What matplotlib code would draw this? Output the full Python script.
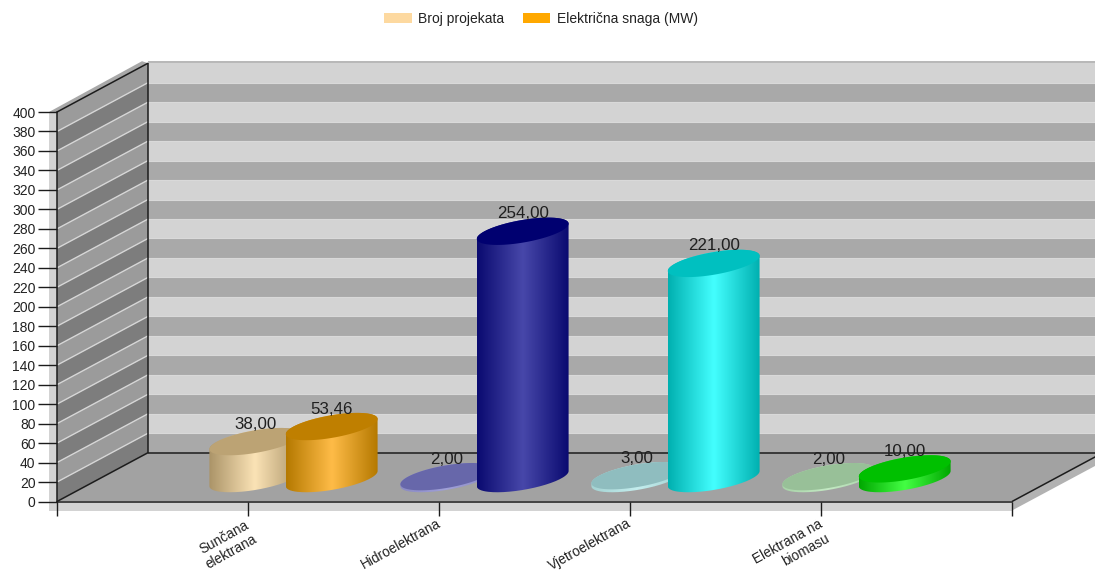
import numpy as np
import matplotlib
matplotlib.use("Agg")
import matplotlib.pyplot as plt
from matplotlib.colors import LinearSegmentedColormap
from matplotlib.patches import Polygon, Patch, PathPatch
from matplotlib.path import Path
from matplotlib.transforms import IdentityTransform

plt.rcParams["font.family"] = ["Liberation Sans", "DejaVu Sans"]

# Chart data
categories = ["Sunčana\nelektrana", "Hidroelektrana", "Vjetroelektrana", "Elektrana na\nbiomasu"]
projects = [38.00, 2.00, 3.00, 2.00]
power_mw = [53.46, 254.00, 221.00, 10.00]
series_names = ["Broj projekata", "Električna snaga (MW)"]
y_ticks = list(range(0, 401, 20))

# Colours per category: (edge of body, centre of body, top cap)
project_colours = [("#ab9468", "#fbe3b6", "#bca374"),
                   ("#8a8ac4", "#a0a0d8", "#6767aa"),
                   ("#a4d2d2", "#c4eeee", "#8fbdbf"),
                   ("#a8d2a8", "#c4eac4", "#98c098")]
power_colours = [("#b57900", "#ffbc48", "#bf7f00"),
                 ("#0a0a70", "#4848aa", "#000070"),
                 ("#00b0b0", "#44ffff", "#00c0c0"),
                 ("#00a800", "#44ff44", "#00c000")]

W, H = 1095, 572
DEPTH_X, DEPTH_Y = 91, 48.8
BAR_OFFSET = 0.2
BAR_DEPTH = 0.56
BAR_DROP = 1.5

fig = plt.figure(figsize=(W / 100, H / 100), dpi=100, facecolor="white")
ax = fig.add_axes([57 / W, (H - 501.5) / H, 955 / W, 389.5 / H])
ax.set_xlim(0, 5)
ax.set_ylim(0, 400)
ax.patch.set_visible(False)
identity = IdentityTransform()


def disp(x, v, depth=0.0):
    """Display position of a data point pushed back along the depth axis."""
    p = ax.transData.transform((x, v))
    return np.array([p[0] + DEPTH_X * depth, p[1] + DEPTH_Y * depth])


def poly(points, color, zorder, **kw):
    ax.add_patch(Polygon(np.array(points), closed=True, facecolor=color, edgecolor="none",
                         transform=identity, clip_on=False, zorder=zorder, **kw))


def line(points, color="#1c1c1c", lw=1.1, zorder=3):
    pts = np.array(points)
    ax.plot(pts[:, 0], pts[:, 1], color=color, lw=lw, transform=identity,
            clip_on=False, zorder=zorder, solid_capstyle="butt")


# Soft shadow plates behind the box
fl, fr = disp(0, 0), disp(5, 0)
tl = disp(0, 400)
poly([fl + (-8, -9), fr + (0, -9), fr, fl + (-8, 0)], "#d3d3d3", 0.5)
poly([tl + (-8, 0), tl, fl, fl + (-8, -9)], "#d3d3d3", 0.5)
poly([fr, disp(5, 0, 1), disp(5, 0, 1) + (0, -9), fr + (0, -9)], "#b2b2b2", 0.5)
poly([tl + (-8, 0), disp(0, 400, 1) + (-6, 2), disp(0, 400, 1), tl], "#a8a8a8", 0.5)
poly([disp(0, 400, 1) + (0, 2), disp(5, 400, 1) + (0, 2), disp(5, 400, 1), disp(0, 400, 1)], "#b8b8b8", 0.5)

# Striped back and side walls
for i, v0 in enumerate(y_ticks[:-1]):
    v1 = y_ticks[i + 1]
    poly([disp(0, v0, 1), disp(5, v0, 1), disp(5, v1, 1), disp(0, v1, 1)],
         "#a9a9a9" if i % 2 == 0 else "#d3d3d3", 1)
    poly([disp(0, v0), disp(0, v0, 1), disp(0, v1, 1), disp(0, v1)],
         "#7d7d7d" if i % 2 == 0 else "#9b9b9b", 1)
for v in y_ticks[1:-1]:
    line([disp(0, v), disp(0, v, 1)], color="#d6d6d6", lw=1.0, zorder=1.5)
    line([disp(0, v, 1), disp(5, v, 1)], color="#d9d9d9", lw=0.8, zorder=1.5)

# Floor
poly([disp(0, 0), disp(5, 0), disp(5, 0, 1), disp(0, 0, 1)], "#a2a2a2", 1.6)

# Box edges
line([disp(0, 400), disp(0, 400, 1)])
line([disp(0, 400, 1), disp(0, 0, 1)])
line([disp(0, 0), disp(0, 0, 1)])
line([disp(0, 0, 1), disp(5, 0, 1)])
line([disp(5, 0), disp(5, 0, 1)])


def cylinder(x, value, colours, zorder):
    """Tilted cylinder standing on the middle of the floor depth."""
    edge, mid, cap = colours
    base = disp(x, 0, 0.5) - (0, BAR_DROP)
    top = disp(x, value, 0.5) - (0, BAR_DROP)
    wx = (disp(BAR_OFFSET, 0) - disp(0, 0))[0]
    dx, dy = DEPTH_X / 2 * BAR_DEPTH, DEPTH_Y / 2 * BAR_DEPTH
    t_left = np.pi + np.arctan2(dx, wx)
    t_right = t_left + np.pi
    tt = np.linspace(0, 2 * np.pi, 121)

    def ring(centre, t):
        return np.column_stack([centre[0] + wx * np.cos(t) + dx * np.sin(t),
                                centre[1] + dy * np.sin(t)])

    lower = ring(base, np.linspace(t_left, t_right, 70))
    upper = ring(top, np.linspace(t_right, t_left + 2 * np.pi, 70))
    body = Path(np.vstack([lower, upper, lower[:1]]))
    left, right = lower[0, 0], lower[-1, 0]

    cmap = LinearSegmentedColormap.from_list("shade", [edge, mid, edge])
    gradient = np.linspace(0, 1, 128).reshape(1, -1)
    im = ax.imshow(gradient, cmap=cmap, aspect="auto", interpolation="bilinear",
                   extent=(left, right, base[1] - 30, top[1] + 30),
                   transform=identity, zorder=zorder)
    im.set_clip_path(PathPatch(body, transform=identity))
    ax.add_patch(Polygon(ring(top, tt), closed=True, facecolor=cap, edgecolor="none",
                         transform=identity, clip_on=False, zorder=zorder + 0.01))
    return top


# Bars: the second series overlaps the first within each category
labels = []
for k, name in enumerate(categories):
    pos = k + 1
    for s, (values, palette, shift) in enumerate([(projects, project_colours, -BAR_OFFSET),
                                                  (power_mw, power_colours, BAR_OFFSET)]):
        top = cylinder(pos + shift, values[k], palette[k], 4 + k + s * 0.1)
        labels.append((top, f"{values[k]:.2f}".replace(".", ",")))

for top, text in labels:
    ax.text(top[0], top[1] + 17.5, text, transform=identity, ha="center", va="center",
            fontsize=12.2, color="#1f1f1f", zorder=20, clip_on=False)

ax.set_xlim(0, 5)
ax.set_ylim(0, 400)

# Axes furniture
for side in ("top", "right"):
    ax.spines[side].set_visible(False)
for side in ("left", "bottom"):
    ax.spines[side].set_color("#1c1c1c")
    ax.spines[side].set_linewidth(1.1)
    ax.spines[side].set_zorder(3)
ax.set_yticks(y_ticks)
ax.set_xticks(range(0, 6))
ax.set_xticklabels([])
ax.tick_params(axis="y", length=13.5, width=1.0, color="#1c1c1c", pad=2,
               labelsize=10, labelcolor="#222222")
ax.tick_params(axis="x", length=10, width=1.0, color="#1c1c1c")

# Slanted category labels, one text per wrapped line
line_anchors = [[(-24, -36), (-16.5, -50.5)],
                [(-38.5, -42.5)],
                [(-40, -43.5)],
                [(-33, -40.5), (-15, -48.5)]]
for k, name in enumerate(categories):
    for part, offset in zip(name.split("\n"), line_anchors[k]):
        p = disp(k + 1, 0) + offset
        ax.text(p[0], p[1], part, transform=identity, rotation=29, rotation_mode="anchor",
                ha="center", va="center", fontsize=9.8, color="#222222", clip_on=False)

legend_handles = [Patch(facecolor="#fdd9a0", edgecolor="none", label=series_names[0]),
                  Patch(facecolor="#ffa800", edgecolor="none", label=series_names[1])]
fig.legend(handles=legend_handles, loc="center", bbox_to_anchor=(541 / W, 1 - 19 / H),
           ncol=2, frameon=False, fontsize=10, handlelength=2.0, handleheight=0.8,
           handletextpad=0.46, columnspacing=1.3, labelcolor="#222222",
           borderpad=0, borderaxespad=0)

fig.savefig("out.png", dpi=100, facecolor="white")
